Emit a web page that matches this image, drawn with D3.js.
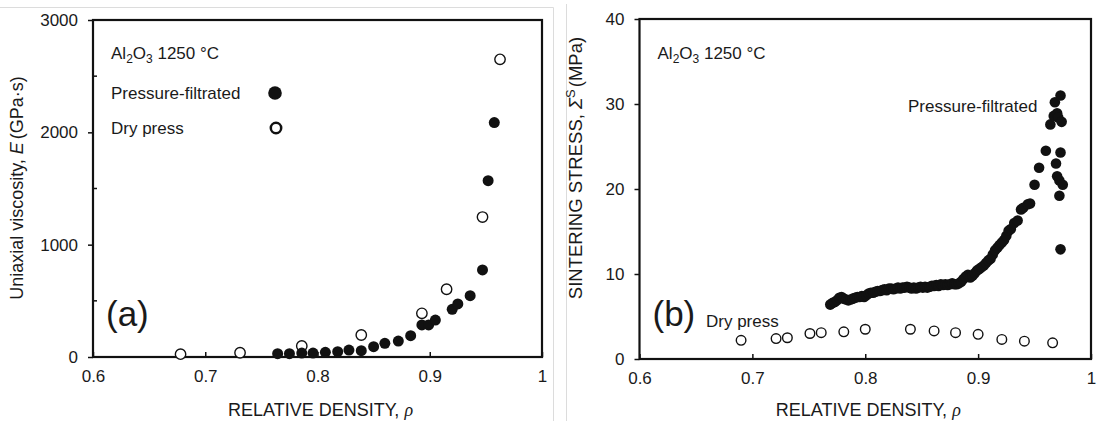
<!DOCTYPE html>
<html>
<head>
<meta charset="utf-8">
<script src="https://cdn.jsdelivr.net/npm/d3@7"></script>
<style>
  html, body { margin: 0; padding: 0; background: #fff; }
  svg { display: block; }
  text { font-family: "Liberation Sans", Arial, sans-serif; fill: #1a1a1a; }
</style>
</head>
<body>
<svg id="chart" width="1099" height="421"></svg>
<script>
// Panel (a): uniaxial viscosity vs relative density
const viscFiltratedRho = [0.7645, 0.775, 0.786, 0.796, 0.807, 0.818, 0.828, 0.839, 0.850, 0.860, 0.872, 0.883, 0.893, 0.899, 0.905, 0.920, 0.925, 0.936, 0.947, 0.952, 0.9575];
const viscFiltratedE   = [30, 30, 35, 35, 42, 47, 62, 56, 92, 122, 142, 190, 285, 285, 329, 424, 472, 546, 775, 1570, 2087];
const viscDryRho = [0.678, 0.731, 0.786, 0.839, 0.893, 0.915, 0.947, 0.9626];
const viscDryE   = [25, 38, 98, 196, 389, 603, 1246, 2650];

// Panel (b): sintering stress vs relative density
const stressFiltratedRho = [
  0.769, 0.771, 0.773, 0.775, 0.777, 0.779, 0.781, 0.783, 0.785, 0.787, 0.789, 0.791, 0.793, 0.795, 0.797, 0.799,
  0.801, 0.803, 0.805, 0.807, 0.809, 0.811, 0.813, 0.815, 0.817, 0.819, 0.821, 0.823, 0.825, 0.827, 0.829, 0.831,
  0.833, 0.835, 0.837, 0.839, 0.841, 0.843, 0.845, 0.847, 0.849, 0.851, 0.853, 0.855, 0.857, 0.859, 0.861, 0.863,
  0.865, 0.867, 0.869, 0.871, 0.873, 0.875, 0.877, 0.879, 0.881, 0.883, 0.885, 0.887, 0.889, 0.891, 0.893, 0.895,
  0.897, 0.899, 0.901, 0.903, 0.905, 0.907, 0.909, 0.911, 0.913, 0.915, 0.917, 0.919, 0.921, 0.923, 0.925, 0.927,
  0.929, 0.932, 0.935, 0.938, 0.940, 0.944, 0.946, 0.950, 0.954, 0.960, 0.964, 0.967, 0.968, 0.970, 0.971, 0.973,
  0.974, 0.973, 0.969, 0.970, 0.972, 0.972, 0.975, 0.973];
const stressFiltratedS = [
  6.4, 6.6, 6.7, 6.9, 7.2, 7.3, 7.1, 7.0, 6.9, 7.0, 7.1, 7.2, 7.3, 7.3, 7.4, 7.3,
  7.5, 7.7, 7.8, 7.8, 7.9, 8.0, 8.0, 8.1, 8.2, 8.1, 8.3, 8.3, 8.2, 8.3, 8.4, 8.3,
  8.4, 8.4, 8.5, 8.4, 8.3, 8.4, 8.3, 8.4, 8.5, 8.4, 8.5, 8.4, 8.5, 8.6, 8.6, 8.7,
  8.6, 8.8, 8.7, 8.8, 8.7, 8.8, 8.9, 8.8, 8.8, 8.9, 9.1, 9.4, 9.7, 9.9, 9.6, 9.8,
  10.1, 10.4, 10.6, 10.8, 11.0, 11.3, 11.6, 11.8, 12.3, 12.8, 13.1, 13.4, 13.7, 14.0, 14.5, 15.1,
  15.3, 16.0, 16.3, 17.6, 17.8, 18.2, 18.3, 20.5, 22.5, 24.5, 27.6, 28.6, 30.2, 28.9, 28.4, 31.0,
  27.9, 24.3, 23.0, 21.5, 21.0, 19.2, 20.5, 12.9];
const stressDryRho = [0.690, 0.721, 0.731, 0.751, 0.761, 0.781, 0.800, 0.840, 0.861, 0.880, 0.900, 0.921, 0.941, 0.966];
const stressDryS   = [2.2, 2.4, 2.5, 3.0, 3.1, 3.2, 3.5, 3.5, 3.3, 3.1, 2.9, 2.3, 2.1, 1.9];

const xTicks = [0.6, 0.7, 0.8, 0.9, 1.0];
const xTickLabels = ["0.6", "0.7", "0.8", "0.9", "1"];
const viscTicks = [0, 1000, 2000, 3000];
const viscMinorTicks = [500, 1500, 2500];
const stressTicks = [0, 10, 20, 30, 40];

const svg = d3.select("#chart");
const ink = "#111";

// light panel separators
svg.append("line").attr("x1", 0).attr("x2", 553.5).attr("y1", 7.5).attr("y2", 7.5)
  .attr("stroke", "#dcdcdc").attr("stroke-width", 1);
svg.append("line").attr("x1", 553.5).attr("x2", 553.5).attr("y1", 7.5).attr("y2", 421)
  .attr("stroke", "#dcdcdc").attr("stroke-width", 1);
svg.append("line").attr("x1", 566.5).attr("x2", 566.5).attr("y1", 4).attr("y2", 421)
  .attr("stroke", "#dcdcdc").attr("stroke-width", 1);

function panel(cfg) {
  const x = d3.scaleLinear().domain([0.6, 1.0]).range([cfg.left, cfg.right]);
  const y = d3.scaleLinear().domain(cfg.yDomain).range([cfg.bottom, cfg.top]);
  const g = svg.append("g");

  // x axis: inward ticks
  const xAxis = d3.axisBottom(x).tickValues(xTicks).tickSize(-5).tickPadding(10)
    .tickFormat((d, i) => xTickLabels[i]);
  const xg = g.append("g").attr("transform", `translate(0,${cfg.bottom})`).call(xAxis);
  xg.select(".domain").remove();
  xg.selectAll(".tick line").attr("stroke", ink).attr("stroke-width", 1.5);
  xg.selectAll(".tick text").attr("font-size", 17).attr("fill", "#1a1a1a")
    .attr("font-family", "Liberation Sans, Arial, sans-serif").attr("dy", "0.9em");

  // y axis: outward ticks
  const yAxis = d3.axisLeft(y).tickValues(cfg.yTicks).tickSize(5).tickPadding(10)
    .tickFormat(d3.format("d"));
  const yg = g.append("g").attr("transform", `translate(${cfg.left},0)`).call(yAxis);
  yg.select(".domain").remove();
  yg.selectAll(".tick line").attr("stroke", ink).attr("stroke-width", 1.5);
  yg.selectAll(".tick text").attr("font-size", 17).attr("fill", "#1a1a1a")
    .attr("font-family", "Liberation Sans, Arial, sans-serif");

  if (cfg.yMinor) {
    g.selectAll(".minor").data(cfg.yMinor).join("line")
      .attr("x1", cfg.left).attr("x2", cfg.left + 4)
      .attr("y1", d => y(d)).attr("y2", d => y(d))
      .attr("stroke", ink).attr("stroke-width", 1.5);
  }

  // plot frame
  g.append("rect").attr("x", cfg.left).attr("y", cfg.top)
    .attr("width", cfg.right - cfg.left).attr("height", cfg.bottom - cfg.top)
    .attr("fill", "none").attr("stroke", ink).attr("stroke-width", 2.2);

  // markers
  const open = d3.zip(cfg.openX, cfg.openY);
  const filled = d3.zip(cfg.fillX, cfg.fillY);
  g.append("g").selectAll("circle").data(open).join("circle")
    .attr("cx", d => x(d[0])).attr("cy", d => y(d[1])).attr("r", cfg.r)
    .attr("fill", "#fff").attr("stroke", ink).attr("stroke-width", 1.4);
  g.append("g").selectAll("circle").data(filled).join("circle")
    .attr("cx", d => x(d[0])).attr("cy", d => y(d[1])).attr("r", cfg.rFill)
    .attr("fill", ink);

  // x axis title
  const xt = g.append("text").attr("x", (cfg.left + cfg.right) / 2 + 3).attr("y", 416)
    .attr("text-anchor", "middle").attr("font-size", 18);
  xt.append("tspan").text("RELATIVE DENSITY, ");
  xt.append("tspan").attr("font-family", "Liberation Serif, Times New Roman, serif")
    .attr("font-style", "italic").text("ρ");

  // composition label
  const al = g.append("text").attr("x", cfg.left + 18).attr("y", 59).attr("font-size", 17);
  al.append("tspan").text("Al");
  al.append("tspan").attr("font-size", 12).attr("dy", 4).text("2");
  al.append("tspan").attr("dy", -4).text("O");
  al.append("tspan").attr("font-size", 12).attr("dy", 4).text("3");
  al.append("tspan").attr("dy", -4).text(" 1250 °C");

  // panel letter
  g.append("text").attr("x", cfg.left + 13).attr("y", 326)
    .attr("font-size", 35).text(cfg.letter);

  return { g, x, y };
}

// (a)
const a = panel({
  left: 93, right: 542, top: 20, bottom: 357,
  yDomain: [0, 3000], yTicks: viscTicks, yMinor: viscMinorTicks,
  fillX: viscFiltratedRho, fillY: viscFiltratedE,
  openX: viscDryRho, openY: viscDryE, r: 5.2, rFill: 5.5, letter: "(a)"
});
a.g.append("text").attr("x", 111).attr("y", 99).attr("font-size", 17).text("Pressure-filtrated");
a.g.append("text").attr("x", 111).attr("y", 134).attr("font-size", 17).text("Dry press");
a.g.append("circle").attr("cx", 275).attr("cy", 93).attr("r", 6.8).attr("fill", ink);
a.g.append("circle").attr("cx", 276).attr("cy", 128).attr("r", 5.2).attr("fill", "#fff")
  .attr("stroke", ink).attr("stroke-width", 2.5);
{
  const t = a.g.append("text").attr("transform", "translate(23,188) rotate(-90)")
    .attr("text-anchor", "middle").attr("font-size", 18);
  t.append("tspan").text("Uniaxial viscosity, ");
  t.append("tspan").attr("font-style", "italic").text("E");
  t.append("tspan").attr("dx", 3).text("(GPa·s)");
}

// (b)
const b = panel({
  left: 639.5, right: 1091, top: 19, bottom: 359,
  yDomain: [0, 40], yTicks: stressTicks, yMinor: null,
  fillX: stressFiltratedRho, fillY: stressFiltratedS,
  openX: stressDryRho, openY: stressDryS, r: 4.8, rFill: 5.3, letter: "(b)"
});
b.g.append("text").attr("x", 908).attr("y", 112).attr("font-size", 17).text("Pressure-filtrated");
b.g.append("text").attr("x", 706).attr("y", 327).attr("font-size", 17).text("Dry press");
{
  const t = b.g.append("text").attr("transform", "translate(582,168) rotate(-90)")
    .attr("text-anchor", "middle").attr("font-size", 18.5);
  t.append("tspan").text("SINTERING STRESS, ");
  t.append("tspan").attr("font-style", "italic").text("Σ");
  t.append("tspan").attr("font-size", 13).attr("dy", -7).text("S");
  t.append("tspan").attr("dy", 7).attr("dx", 2).text("(MPa)");
}
</script>
</body>
</html>
